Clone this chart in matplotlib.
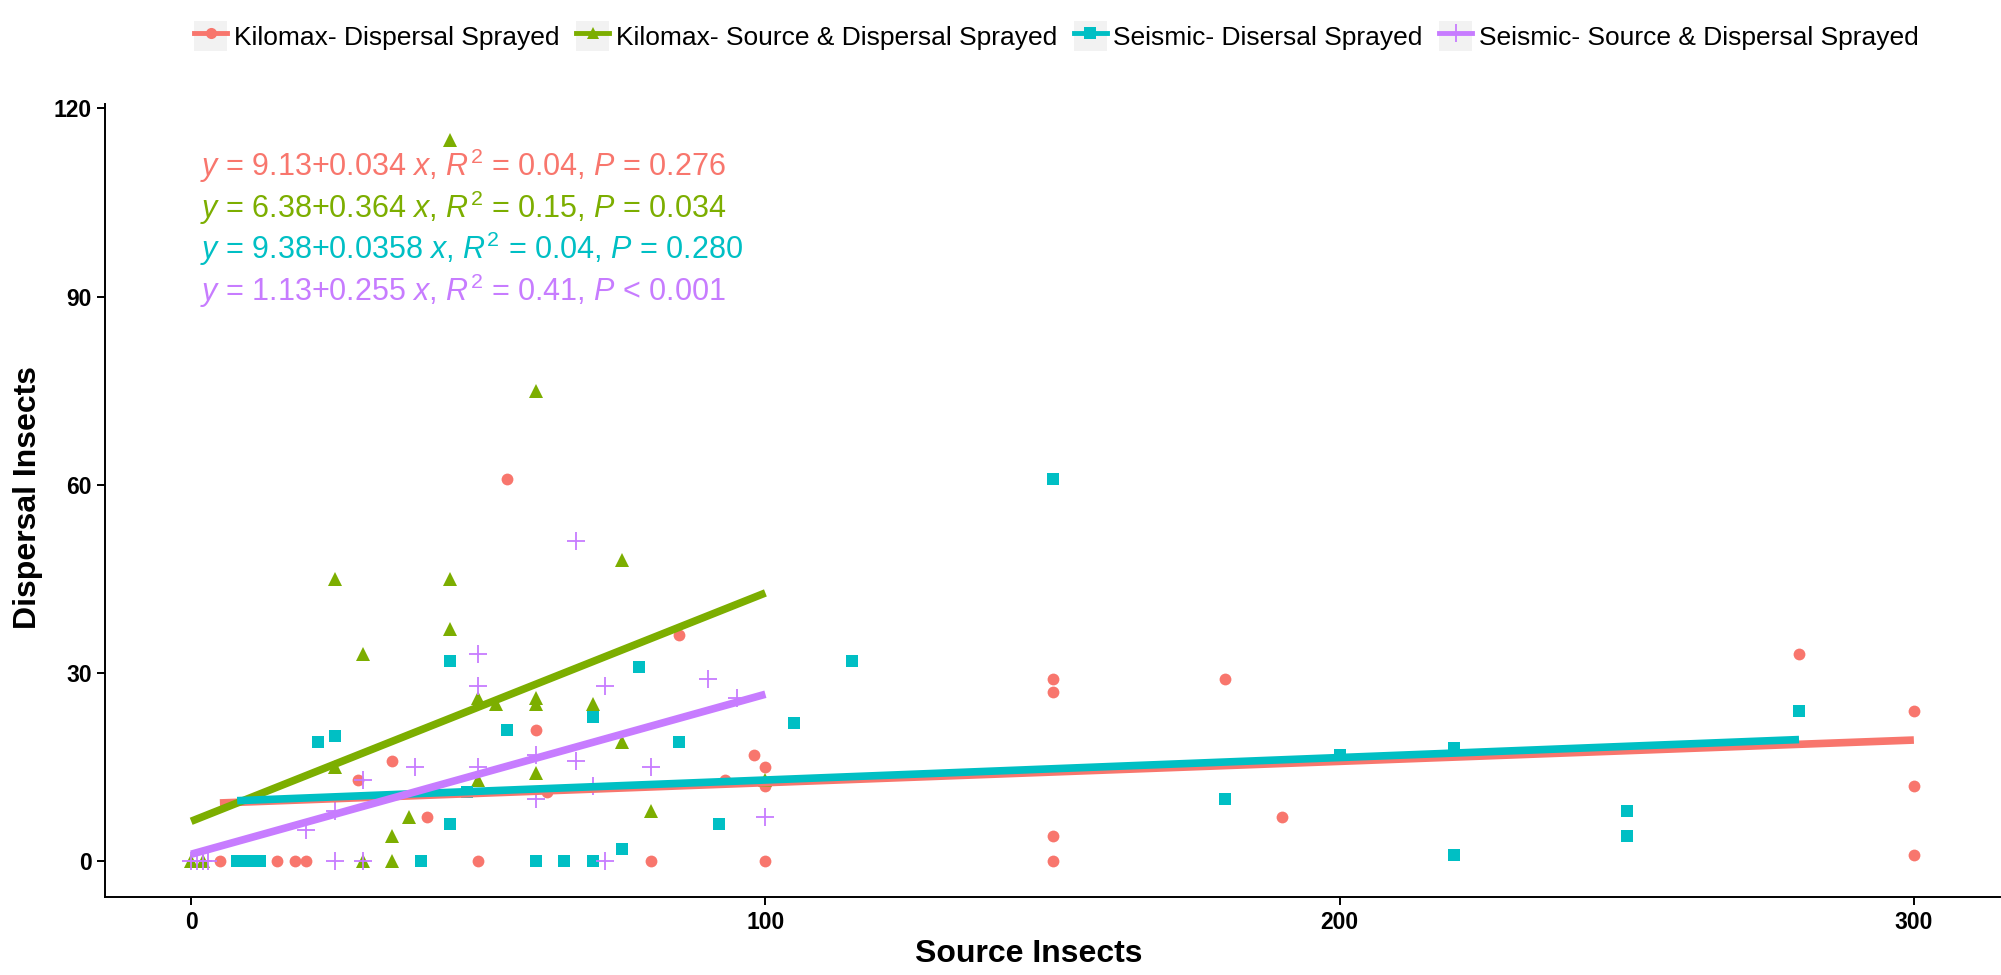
import numpy as np
import matplotlib
matplotlib.use('Agg')
import matplotlib.pyplot as plt
from matplotlib.lines import Line2D
from matplotlib.patches import Rectangle
from matplotlib.legend_handler import HandlerLine2D

plt.rcParams['font.family'] = ['Liberation Sans', 'DejaVu Sans']
plt.rcParams['mathtext.fontset'] = 'custom'
plt.rcParams['mathtext.rm'] = 'Liberation Sans'
plt.rcParams['mathtext.it'] = 'Liberation Sans:italic'

# ---------------------------------------------------------------------------
# Data
# ---------------------------------------------------------------------------
labels = ["Kilomax- Dispersal Sprayed", "Kilomax- Source & Dispersal Sprayed",
          "Seismic- Disersal Sprayed", "Seismic- Source & Dispersal Sprayed"]
colors = ["#F8766D", "#7CAE00", "#00BFC4", "#C77CFF"]
markers = ["o", "^", "s", "+"]

kd_x = [5, 15, 18, 20, 50, 80, 100, 150, 29, 35, 41, 55, 60, 62, 85, 93, 98,
        100, 100, 150, 150, 150, 180, 190, 280, 300, 300, 300]
kd_y = [0, 0, 0, 0, 0, 0, 0, 0, 13, 16, 7, 61, 21, 11, 36, 13, 17,
        15, 12, 29, 27, 4, 29, 7, 33, 24, 12, 1]

ksd_x = [0, 2, 30, 35, 35, 38, 25, 25, 30, 45, 45, 45, 50, 50, 53, 60, 60, 60,
         60, 70, 75, 75, 80, 100]
ksd_y = [0, 0, 0, 0, 4, 7, 45, 15, 33, 45, 37, 115, 26, 13, 25, 75, 26, 25,
         14, 25, 48, 19, 8, 13]

sd_x = [8, 10, 11, 12, 40, 60, 65, 70, 22, 25, 45, 45, 48, 55, 70, 75, 78, 85,
        92, 105, 115, 150, 180, 200, 220, 220, 250, 250, 280]
sd_y = [0, 0, 0, 0, 0, 0, 0, 0, 19, 20, 32, 6, 11, 21, 23, 2, 31, 19,
        6, 22, 32, 61, 10, 17, 18, 1, 8, 4, 24]

ssd_x = [0, 1, 2, 3, 25, 30, 72, 20, 25, 30, 39, 50, 50, 50, 60, 60, 67, 67,
         70, 72, 80, 90, 95, 100]
ssd_y = [0, 0, 0, 0, 0, 0, 0, 5, 8, 13, 15, 33, 28, 15, 17, 10, 51, 16,
         12, 28, 15, 29, 26, 7]

xs = [kd_x, ksd_x, sd_x, ssd_x]
ys = [kd_y, ksd_y, sd_y, ssd_y]

# fitted lines, as printed on the figure
intercepts = [9.13, 6.38, 9.38, 1.13]
slopes = [0.034, 0.364, 0.0358, 0.255]
eq_labels = [
    r"$y$ = 9.13$+$0.034 $x$, $R^2$ = 0.04, $P$ = 0.276",
    r"$y$ = 6.38$+$0.364 $x$, $R^2$ = 0.15, $P$ = 0.034",
    r"$y$ = 9.38$+$0.0358 $x$, $R^2$ = 0.04, $P$ = 0.280",
    r"$y$ = 1.13$+$0.255 $x$, $R^2$ = 0.41, $P$ < 0.001",
]

# ---------------------------------------------------------------------------
# Figure
# ---------------------------------------------------------------------------
fig = plt.figure(figsize=(20.01, 9.75), dpi=100)
ax = fig.add_axes([0.0525, 0.0796, 0.947, 0.814])

msizes = [8.5, 9.5, 8, 13]
for i in range(4):
    x = np.array(xs[i], dtype=float)
    y = np.array(ys[i], dtype=float)
    if markers[i] == "+":
        ax.plot(x, y, linestyle='none', marker='+', ms=msizes[i], mew=1.3,
                color=colors[i], zorder=3)
    else:
        ax.plot(x, y, linestyle='none', marker=markers[i], ms=msizes[i],
                mew=0, color=colors[i], zorder=3)

for i in range(4):
    xl = np.array([min(xs[i]), max(xs[i])], dtype=float)
    ax.plot(xl, intercepts[i] + slopes[i] * xl, color=colors[i], lw=5.5,
            solid_capstyle='butt', zorder=4)

for i, txt in enumerate(eq_labels):
    ax.text(1.5, 110.8 - 6.6 * i, txt, color=colors[i], fontsize=22,
            va='center', ha='left', zorder=5)

ax.set_xlim(-15, 315)
ax.set_ylim(-5.75, 120.75)
ax.set_xticks([0, 100, 200, 300])
ax.set_yticks([0, 30, 60, 90, 120])
for s in ['top', 'right']:
    ax.spines[s].set_visible(False)
for s in ['left', 'bottom']:
    ax.spines[s].set_linewidth(1.4)
ax.tick_params(length=6, width=1.4, labelsize=16.5, direction='out')
for lab in ax.get_xticklabels() + ax.get_yticklabels():
    lab.set_fontweight('bold')

fig.text(0.514, 0.022, "Source Insects", fontsize=23, fontweight='bold',
         ha='center', va='center')
fig.text(0.014, 0.49, "Dispersal Insects", fontsize=23, fontweight='bold',
         ha='center', va='center', rotation=90)


class KeyHandler(HandlerLine2D):
    def create_artists(self, legend, orig_handle, xdescent, ydescent,
                       width, height, fontsize, trans):
        bg = Rectangle((-xdescent, -ydescent), width, height,
                       facecolor='#F2F2F2', edgecolor='none', transform=trans)
        arts = super().create_artists(legend, orig_handle, xdescent, ydescent,
                                      width, height, fontsize, trans)
        return [bg] + arts


handles = []
for i in range(4):
    if markers[i] == "+":
        h = Line2D([], [], color=colors[i], lw=3.5, marker='+', ms=13, mew=1.3)
    else:
        h = Line2D([], [], color=colors[i], lw=3.5, marker=markers[i], ms=8, mew=0)
    handles.append(h)

fig.legend(handles, labels, loc='center', bbox_to_anchor=(0.528, 0.963),
           ncol=4, frameon=False, fontsize=19, handlelength=1.25,
           handleheight=1.36, handletextpad=0.25, columnspacing=0.63,
           handler_map={Line2D: KeyHandler(numpoints=1)})

fig.savefig("out.png", dpi=100)
